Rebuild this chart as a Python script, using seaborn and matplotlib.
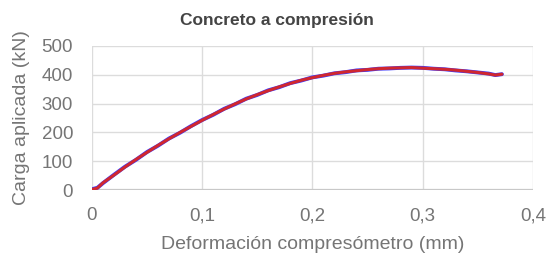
import pandas as pd
import matplotlib.pyplot as plt
import seaborn as sns

# deformación (mm) y carga (kN)
deformacion = [0.0, 0.005, 0.01, 0.02, 0.03, 0.04, 0.05, 0.06, 0.07, 0.08,
               0.09, 0.10, 0.11, 0.12, 0.13, 0.14, 0.15, 0.16, 0.17, 0.18,
               0.19, 0.20, 0.21, 0.22, 0.23, 0.24, 0.25, 0.26, 0.27, 0.28,
               0.29, 0.30, 0.31, 0.32, 0.33, 0.34, 0.35, 0.36, 0.366, 0.372]
carga_azul = [3, 8, 24, 53, 81, 105, 132, 154, 179, 199,
              222, 243, 261, 282, 298, 317, 330, 346, 357, 371,
              380, 391, 397, 405, 409, 415, 417, 421, 422, 424,
              425, 424, 421, 419, 415, 412, 408, 404, 399, 402]
carga_roja = [2, 7, 25, 52, 80, 106, 131, 155, 178, 200,
              221, 242, 262, 281, 299, 316, 331, 345, 358, 370,
              381, 390, 398, 405, 410, 414, 418, 421, 423, 424,
              425, 423, 421, 419, 416, 412, 408, 403, 399, 402]
xticks = [0, 0.1, 0.2, 0.3, 0.4]
xtick_labels = ["0", "0,1", "0,2", "0,3", "0,4"]
yticks = [0, 100, 200, 300, 400, 500]

df = pd.DataFrame({"x": deformacion, "azul": carga_azul, "roja": carga_roja})

sns.set_style("white")
plt.rcParams["font.family"] = ["Liberation Sans", "DejaVu Sans"]

gris = "#757575"
grid = "#dcdcdc"

fig, ax = plt.subplots(figsize=(5.47, 2.64), dpi=100)
fig.subplots_adjust(left=0.168, right=0.974, top=0.826, bottom=0.28)

sns.lineplot(data=df, x="x", y="azul", ax=ax, color="#3a3aff", linewidth=2.8)
sns.lineplot(data=df, x="x", y="roja", ax=ax, color="#d0272f", linewidth=2.2)

ax.set_xlim(0, 0.4)
ax.set_ylim(0, 500)
ax.set_xticks(xticks)
ax.set_xticklabels(xtick_labels)
ax.set_yticks(yticks)
ax.grid(True, color=grid, linewidth=1.0)
ax.axhline(0, color="#c8c8c8", linewidth=1.6, zorder=1)
for s in ax.spines.values():
    s.set_visible(False)
ax.tick_params(axis="x", length=8.5, width=1.0, color=grid, pad=4,
               labelsize=13.5, labelcolor=gris)
ax.tick_params(axis="y", length=8.5, width=1.0, color=grid, pad=5,
               labelsize=13.5, labelcolor=gris)

ax.set_xlabel("Deformación compresómetro (mm)", fontsize=14, color=gris)
ax.set_ylabel("Carga aplicada (kN)", fontsize=14, color=gris)
ax.xaxis.set_label_coords(0.5, -0.38)
ax.yaxis.set_label_coords(-0.159, 0.5)
ax.xaxis.label.set_va("center")
ax.yaxis.label.set_va("center")
fig.suptitle("Concreto a compresión", x=0.507, y=0.924, va="center",
             fontsize=12.5, fontweight="bold", color="#444444")

plt.savefig("out.png", dpi=100)
